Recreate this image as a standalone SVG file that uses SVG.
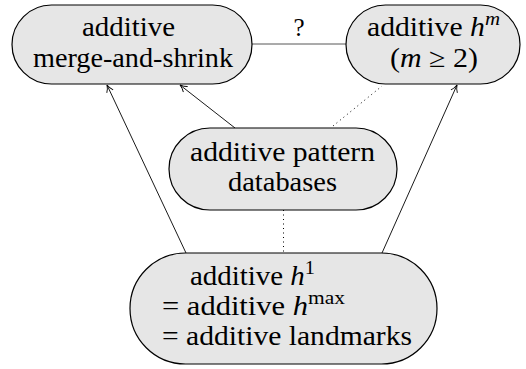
<svg xmlns="http://www.w3.org/2000/svg" width="526" height="369" viewBox="0 0 526 369">
<defs>
<marker id="arr" viewBox="0 0 10 10" refX="9" refY="5" markerWidth="10" markerHeight="10" markerUnits="userSpaceOnUse" orient="auto">
<path d="M2,1.5 Q5,4 9,5 Q5,6 2,8.5" fill="none" stroke="#000" stroke-width="0.9"/>
</marker>
<style>
.node rect{fill:#e6e6e6;stroke:#000;stroke-width:1.2}
text{font-family:'Liberation Serif','Times New Roman',serif;font-size:27px;fill:#000}
.c{text-anchor:middle}
.m{font-style:italic}
.sup{font-size:19px}
.e{fill:none;stroke:#000;stroke-width:0.9}
.d{fill:none;stroke:#000;stroke-width:1;stroke-dasharray:1 3.5}
</style>
</defs>
<g id="connectors">
<line x1="252" y1="44" x2="346" y2="44" stroke="#444" stroke-width="0.9"/>
<text x="299" y="36" class="c" style="font-size:25px">?</text>
<line class="e" x1="186" y1="253" x2="107" y2="85" marker-end="url(#arr)"/>
<line class="e" x1="235" y1="128" x2="180" y2="85" marker-end="url(#arr)"/>
<line class="e" x1="382" y1="253" x2="457" y2="85" marker-end="url(#arr)"/>
<line class="d" x1="333" y1="126" x2="382" y2="86"/>
<line class="d" x1="283.5" y1="210" x2="283.5" y2="253"/>
</g>
<g id="n1" class="node">
<rect x="12" y="5" width="240" height="79" rx="39.5" ry="39.5"/>
<text x="82" y="36" textLength="93" lengthAdjust="spacingAndGlyphs">additive</text>
<text x="33" y="67" textLength="200" lengthAdjust="spacingAndGlyphs">merge-and-shrink</text>
</g>
<g id="n2" class="node">
<rect x="346" y="5" width="174" height="79" rx="39.5" ry="39.5"/>
<text x="367" y="36" textLength="133" lengthAdjust="spacingAndGlyphs">additive <tspan class="m">h</tspan><tspan class="m sup" dy="-11">m</tspan></text>
<text x="390" y="67" textLength="88" lengthAdjust="spacingAndGlyphs">(<tspan class="m">m</tspan> ≥ 2)</text>
</g>
<g id="n3" class="node">
<rect x="169" y="128" width="228" height="82" rx="41" ry="41"/>
<text x="190" y="161" textLength="185" lengthAdjust="spacingAndGlyphs">additive pattern</text>
<text x="228" y="191" textLength="109" lengthAdjust="spacingAndGlyphs">databases</text>
</g>
<g id="n4" class="node">
<rect x="130" y="253" width="307" height="111" rx="55.5" ry="55.5"/>
<text x="190" y="285" textLength="125" lengthAdjust="spacingAndGlyphs">additive <tspan class="m">h</tspan><tspan class="sup" dy="-11">1</tspan></text>
<text x="162" y="315" textLength="183" lengthAdjust="spacingAndGlyphs">= additive <tspan class="m">h</tspan><tspan class="sup" dy="-11">max</tspan></text>
<text x="162" y="345" textLength="250" lengthAdjust="spacingAndGlyphs">= additive landmarks</text>
</g>
</svg>
